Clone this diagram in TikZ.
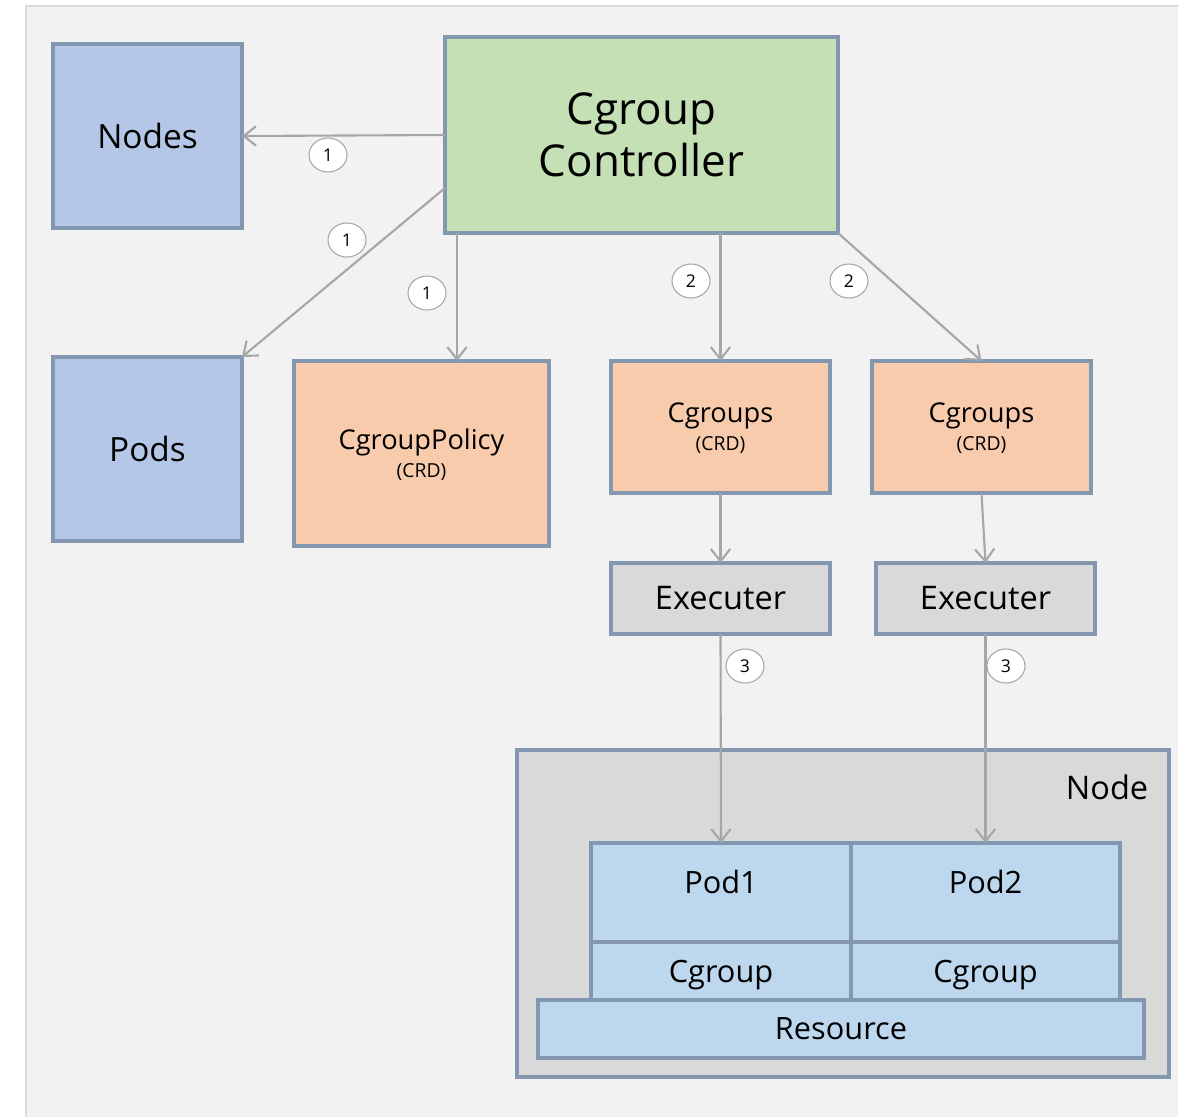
\documentclass[tikz,border=0pt]{standalone}
\usepackage{fontspec}
\setmainfont{Open Sans}
\usepackage{tikz}
\usetikzlibrary{arrows.meta,shapes.geometric}

\definecolor{panelbg}{HTML}{F2F2F2}
\definecolor{panelline}{HTML}{DCDCDC}
\definecolor{frame}{HTML}{8497B0}
\definecolor{nodeblue}{HTML}{B4C7E7}
\definecolor{ctrlgreen}{HTML}{C5E0B4}
\definecolor{crdorange}{HTML}{F8CBAD}
\definecolor{execgray}{HTML}{D9D9D9}
\definecolor{cellblue}{HTML}{BDD7EE}
\definecolor{arrgray}{HTML}{A6A6A6}

\tikzset{
    sz/.style 2 args={minimum width=#1*0.02cm, minimum height=#2*0.02cm},
    box/.style={draw=frame, line width=2pt, inner sep=0pt, outer sep=0pt, align=center},
    bluebox/.style={box, fill=nodeblue, font=\fontsize{19}{23}\selectfont},
    greenbox/.style={box, fill=ctrlgreen, font=\fontsize{25}{29.5}\selectfont},
    crdbox/.style={box, fill=crdorange, text depth=0pt, font=\fontsize{15.5}{16}\selectfont},
    execbox/.style={box, fill=execgray, font=\fontsize{18.5}{22}\selectfont},
    hostbox/.style={box, fill=execgray},
    cell/.style={box, fill=cellblue, text depth=0pt, font=\fontsize{17.5}{21}\selectfont},
    num/.style={ellipse, draw=arrgray, fill=white, line width=0.6pt, inner sep=0pt,
        minimum width=38*0.02cm, minimum height=34*0.02cm, font=\fontsize{10}{11}\selectfont},
    arr/.style={draw=arrgray, line width=1.2pt, -{Straight Barb[length=7pt,width=11pt]}},
}
\newcommand{\crd}[1]{{\fontsize{11}{12}\selectfont #1}}

\begin{document}
\begin{tikzpicture}[x=0.02cm, y=-0.02cm]
    \useasboundingbox (0,0) rectangle (1178,1117);
    \fill[white] (0,0) rectangle (1178,1117);
    \draw[panelline, fill=panelbg, line width=1.6pt] (26,6) rectangle (1200,1140);

    % left side
    \node[bluebox, sz={189}{184}] (nodes) at (147.5,136) {Nodes};
    \node[bluebox, sz={189}{184}] (pods) at (147.5,449) {Pods};

    % controller and CRDs
    \node[greenbox, sz={393}{196}] (ctrl) at (641.5,135) {Cgroup\\Controller};
    \node[crdbox, sz={255}{185}] (policy) at (421.5,453.5) {CgroupPolicy\\\crd{(CRD)}};
    \node[crdbox, sz={219}{132}] (crdA) at (720.5,427) {Cgroups\\\crd{(CRD)}};
    \node[crdbox, sz={219}{132}] (crdB) at (981.5,427) {Cgroups\\\crd{(CRD)}};

    % executers
    \node[execbox, sz={219}{71}] (execA) at (720.5,598.5) {Executer};
    \node[execbox, sz={219}{71}] (execB) at (985.5,598.5) {Executer};

    % node with pods
    \node[hostbox, sz={652}{327}] (host) at (843,913.5) {};
    \node[font=\fontsize{18.5}{22}\selectfont] (hostname) at (1107,787) {Node};
    \node[cell, sz={260}{99}] (pod1) at (721,892.5) {};
    \node[cell, sz={269}{99}] (pod2) at (985.5,892.5) {};
    \node[font=\fontsize{17.5}{21}\selectfont] (pod1name) at (721,882) {Pod1};
    \node[font=\fontsize{17.5}{21}\selectfont] (pod2name) at (985.5,882) {Pod2};
    \node[cell, sz={260}{58}] (cgA) at (721,971) {Cgroup};
    \node[cell, sz={269}{58}] (cgB) at (985.5,971) {Cgroup};
    \node[cell, sz={606}{58}] (res) at (841,1029) {Resource};

    % connectors
    \draw[arr] (ctrl.west) -- (nodes.east);
    \draw[arr] ([yshift=-1.06cm]ctrl.west) -- (pods.north east);
    \draw[arr] ([xshift=0.24cm]ctrl.south west) -- ([xshift=0.24cm]ctrl.south west |- policy.north);
    \draw[arr] (ctrl.south -| crdA.north) -- (crdA.north);
    \draw[arr] (ctrl.south east) -- (crdB.north);
    \draw[arr] (crdA.south) -- (execA.north);
    \draw[arr] (crdB.south) -- (execB.north);
    \draw[arr] (execA.south) -- (pod1.north);
    \draw[arr] (execB.south) -- (pod2.north);

    % step numbers
    \node[num] (s1a) at (328,155) {1};
    \node[num] (s1b) at (347,240) {1};
    \node[num] (s1c) at (427,293) {1};
    \node[num] (s2a) at (691,281) {2};
    \node[num] (s2b) at (849,281) {2};
    \node[num] (s3a) at (745,666) {3};
    \node[num] (s3b) at (1006,666) {3};
\end{tikzpicture}
\end{document}
